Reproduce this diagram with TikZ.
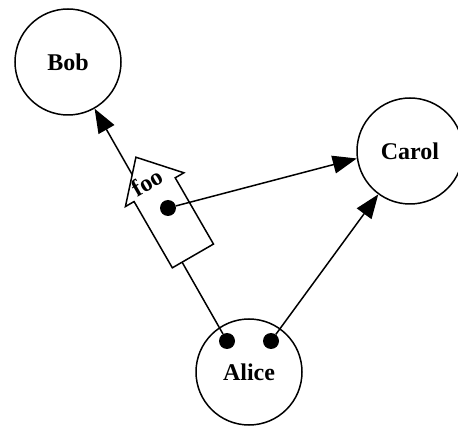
\documentclass[tikz,border=0pt]{standalone}
\usepackage{fontspec}
\setmainfont{Liberation Serif}
\usetikzlibrary{shapes.arrows, arrows.meta}

\begin{document}
\begin{tikzpicture}[
    x=1pt, y=1pt,
    % Define the style for the people
    person/.style={
        circle,
        draw,
        line width=1.5pt,
        minimum size=106pt,
        font=\bfseries\fontsize{24}{28}\selectfont
    },
    % Define the style for the small black dots
    dot/.style={
        circle,
        fill=black,
        minimum size=16pt,
        inner sep=0pt
    },
    % Define the style for the message flag
    flag/.style={
        single arrow,
        draw,
        fill=white,
        line width=1.5pt,
        inner sep=23pt,
        minimum height=114pt,
        single arrow head extend=10pt,
        single arrow tip angle=84,
        shape border rotate=90,
        rotate=30
    },
    % Define the style for the arrows
    line/.style={
        draw,
        line width=1.5pt,
        -{Triangle[length=24pt, width=18pt]}
    }
]
    \useasboundingbox (0,0) rectangle (458,426);

    % Place the people
    \node [person] (bob) at (68,364) {Bob};
    \node [person] (carol) at (410,275) {Carol};
    \node [person] (alice) at (249,54) {Alice};

    % Dots on Alice
    \node [dot] (ldot) at ([shift={(-22,31)}]alice.center) {};
    \node [dot] (rdot) at ([shift={(22,31)}]alice.center) {};

    % Arrows leaving Alice
    \path [line] (ldot) -- (bob);
    \path [line] (rdot) -- (carol);

    % The message on its way
    \node [flag] (msg) at (171,208) {};
    \node [rotate=30, font=\bfseries\fontsize{24}{28}\selectfont] (foo) at (147,244) {foo};
    \node [dot] (mdot) at (168,218) {};
    \path [line] (mdot) -- (carol.188);

\end{tikzpicture}
\end{document}
